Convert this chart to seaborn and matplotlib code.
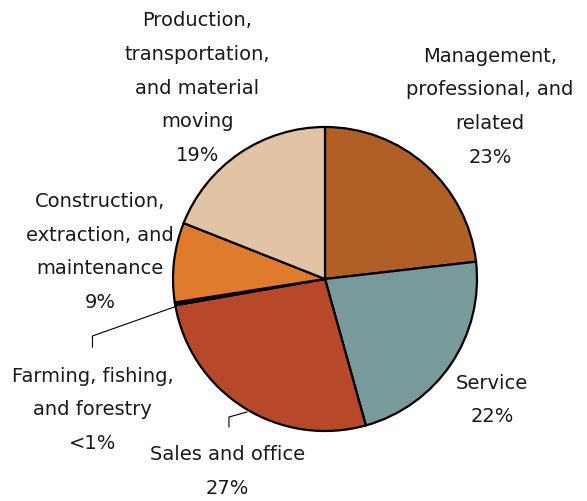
import matplotlib
matplotlib.use("Agg")
import matplotlib.pyplot as plt
import numpy as np
import seaborn as sns

sns.set_style("white")
plt.rcParams["font.family"] = ["DejaVu Sans"]

categories = [
    "Management,\nprofessional, and\nrelated",
    "Service",
    "Sales and office",
    "Farming, fishing,\nand forestry",
    "Construction,\nextraction, and\nmaintenance",
    "Production,\ntransportation,\nand material\nmoving",
]
shares = [23.3, 22.6, 26.7, 0.3, 8.5, 19.1]
share_labels = ["23%", "22%", "27%", "<1%", "9%", "19%"]
colors = ["#b05f27", "#789a9a", "#b8482a", "#2a140c", "#e07a2c", "#e3c3a5"]

# label anchor points in pie units (radius = 1)
label_pos = [(1.086, 1.14), (1.10, -0.79), (-0.64, -1.26),
             (-1.53, -0.855), (-1.48, 0.184), (-0.84, 1.263)]

fig = plt.figure(figsize=(5.87, 5.02), dpi=100)
cx, cy, r = 325, 280, 152
ax = fig.add_axes([(cx - r) / 587, (502 - cy - r) / 502, 2 * r / 587, 2 * r / 502])

ax.pie(
    shares,
    colors=colors,
    startangle=90,
    counterclock=False,
    radius=1,
    wedgeprops=dict(edgecolor="black", linewidth=1.6),
)
ax.set_xlim(-1, 1)
ax.set_ylim(-1, 1)
ax.set_aspect("equal")
ax.axis("off")

for name, pct, (x, y) in zip(categories, share_labels, label_pos):
    ax.text(x, y, f"{name}\n{pct}", ha="center", va="center", fontsize=14,
            linespacing=1.98, color="#1a1a1a", clip_on=False)

# leader lines for the two labels that sit away from their slices
ax.plot([-1.53, -1.53, -0.98], [-0.45, -0.375, -0.18], color="black", lw=0.8, clip_on=False)
ax.plot([-0.632, -0.632, -0.513], [-0.974, -0.908, -0.875], color="black", lw=0.8, clip_on=False)

fig.savefig("out.png", dpi=100)
